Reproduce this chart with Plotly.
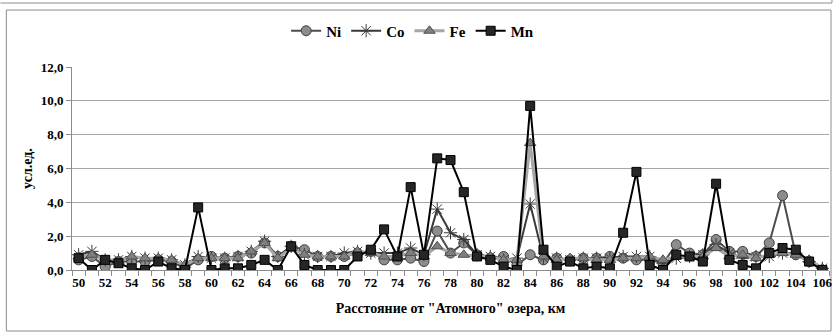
import plotly.graph_objects as go

distance_km = list(range(50, 107))

ni = [0.6, 0.8, 0.2, 0.5, 0.5, 0.5, 0.6, 0.5, 0.1, 0.6,
      0.8, 0.7, 0.8, 1.0, 1.6, 0.8, 1.4, 1.2, 0.8, 0.8,
      0.8, 1.0, 1.1, 0.6, 0.6, 0.7, 0.5, 2.3, 1.0, 1.6,
      0.9, 0.7, 0.8, 0.3, 0.9, 0.6, 0.7, 0.6, 0.7, 0.7,
      0.8, 0.7, 0.6, 0.6, 0.4, 1.5, 1.0, 0.9, 1.8, 1.1,
      1.1, 0.8, 1.6, 4.4, 0.9, 0.5, 0.0]
co = [0.9, 1.1, 0.6, 0.6, 0.8, 0.7, 0.7, 0.6, 0.3, 0.8,
      0.7, 0.7, 0.8, 1.1, 1.7, 0.8, 1.4, 0.9, 0.8, 0.8,
      1.0, 1.1, 1.0, 1.0, 1.0, 1.3, 0.9, 3.6, 2.2, 1.8,
      0.9, 0.8, 0.6, 0.7, 3.9, 0.7, 0.7, 0.6, 0.7, 0.7,
      0.7, 0.8, 0.8, 0.8, 0.4, 0.7, 0.8, 0.9, 1.5, 1.0,
      0.7, 0.8, 0.8, 1.0, 1.0, 0.5, 0.1]
fe = [0.8, 0.9, 0.6, 0.5, 0.8, 0.7, 0.7, 0.6, 0.3, 0.7,
      0.7, 0.7, 0.7, 1.1, 1.6, 0.7, 1.3, 0.9, 0.8, 0.8,
      0.8, 1.1, 1.0, 0.8, 0.8, 1.0, 0.8, 1.4, 1.0, 0.9,
      0.8, 0.8, 0.6, 0.6, 7.5, 0.8, 0.6, 0.7, 0.7, 0.6,
      0.6, 0.7, 0.7, 0.8, 0.6, 0.8, 0.8, 0.8, 1.3, 0.8,
      0.9, 0.7, 0.9, 1.0, 0.9, 0.6, 0.1]
mn = [0.7, 0.0, 0.6, 0.4, 0.1, 0.0, 0.5, 0.1, 0.0, 3.7,
      0.0, 0.1, 0.1, 0.3, 0.6, 0.0, 1.4, 0.3, 0.0, 0.0,
      0.0, 0.8, 1.2, 2.4, 0.8, 4.9, 0.9, 6.6, 6.5, 4.6,
      0.8, 0.6, 0.2, 0.0, 9.7, 1.2, 0.2, 0.5, 0.1, 0.2,
      0.1, 2.2, 5.8, 0.3, 0.0, 0.9, 0.8, 0.5, 5.1, 0.6,
      0.3, 0.1, 1.0, 1.3, 1.2, 0.5, 0.0]

tick_vals = list(range(50, 107, 2))
y_ticks = [0, 2, 4, 6, 8, 10, 12]
y_labels = ["0,0", "2,0", "4,0", "6,0", "8,0", "10,0", "12,0"]

FONT = "Liberation Serif"

fig = go.Figure()
fig.add_trace(go.Scatter(
    x=distance_km, y=ni, name="Ni", mode="lines+markers",
    line=dict(color="#4d4d4d", width=2),
    marker=dict(symbol="circle", size=10, color="#8c8c8c",
                line=dict(color="#404040", width=1))))
fig.add_trace(go.Scatter(
    x=distance_km, y=co, name="Co", mode="lines+markers",
    line=dict(color="#3a3a3a", width=2),
    marker=dict(symbol="asterisk-open", size=11,
                line=dict(color="#202020", width=1))))
fig.add_trace(go.Scatter(
    x=distance_km, y=fe, name="Fe", mode="lines+markers",
    line=dict(color="#a6a6a6", width=3),
    marker=dict(symbol="triangle-up", size=10, color="#7f7f7f",
                line=dict(color="#505050", width=1))))
fig.add_trace(go.Scatter(
    x=distance_km, y=mn, name="Mn", mode="lines+markers",
    line=dict(color="#000000", width=2),
    marker=dict(symbol="square", size=9, color="#262626",
                line=dict(color="#000000", width=1))))

ml, mr, mt, mb = 72, 5, 67, 62
W, H = 838, 332
pw = W - ml - mr
ph = H - mt - mb


def px2paper_x(px):
    return (px - ml) / pw


def px2paper_y(py):
    return (H - mb - py) / ph


fig.add_shape(type="rect", xref="paper", yref="paper",
              x0=px2paper_x(6), x1=px2paper_x(835),
              y0=px2paper_y(331), y1=px2paper_y(10),
              line=dict(color="#8c8c8c", width=1), layer="below")
fig.add_shape(type="line", xref="paper", yref="paper",
              x0=px2paper_x(0), x1=px2paper_x(836),
              y0=px2paper_y(3), y1=px2paper_y(3),
              line=dict(color="#8c8c8c", width=1))
fig.add_shape(type="line", xref="paper", yref="paper",
              x0=px2paper_x(836), x1=px2paper_x(836),
              y0=px2paper_y(0), y1=px2paper_y(3),
              line=dict(color="#8c8c8c", width=1))

fig.update_layout(
    width=W, height=H,
    margin=dict(l=ml, r=mr, t=mt, b=mb),
    paper_bgcolor="white", plot_bgcolor="white",
    font=dict(family=FONT, size=13, color="black"),
    showlegend=True,
    legend=dict(orientation="h", x=0.45, xanchor="center",
                y=px2paper_y(31), yanchor="middle",
                font=dict(family=FONT, size=15, color="black", weight="bold"),
                itemwidth=30, tracegroupgap=0),
    xaxis=dict(
        range=[49.5, 106.5], tickmode="array", tickvals=tick_vals,
        ticktext=[str(v) for v in tick_vals],
        showgrid=False, zeroline=False,
        showline=True, linecolor="#8c8c8c", linewidth=1,
        ticks="",
        minor=dict(ticks="outside", tick0=49.5, dtick=1, ticklen=5,
                   tickcolor="#8c8c8c", showgrid=False),
        tickfont=dict(family=FONT, size=13, weight="bold"),
        title=dict(text="Расстояние от \"Атомного\" озера, км",
                   font=dict(family=FONT, size=14, weight="bold"),
                   standoff=14),
    ),
    yaxis=dict(
        range=[0, 12], tickmode="array", tickvals=y_ticks, ticktext=y_labels,
        showgrid=True, gridcolor="#a6a6a6", gridwidth=1,
        zeroline=False, showline=True, linecolor="#8c8c8c", linewidth=1,
        ticks="outside", ticklen=5, tickcolor="#8c8c8c",
        tickfont=dict(family=FONT, size=13, weight="bold"),
        title=dict(text="усл.ед.",
                   font=dict(family=FONT, size=14, weight="bold"),
                   standoff=4),
    ),
)

fig.write_html(
    "out.html",
    config={"displayModeBar": False},
    post_script="document.body.style.margin='0';document.body.style.overflow='hidden';",
)
